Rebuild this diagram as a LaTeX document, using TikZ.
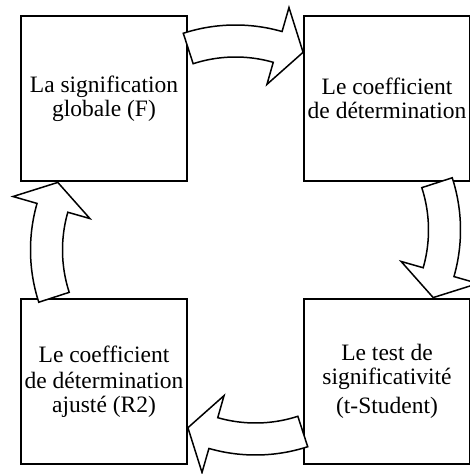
\documentclass[tikz,border=0pt]{standalone}
\usepackage{fontspec}
\setmainfont{Liberation Serif}
\usetikzlibrary{calc}
\tikzset{
  bloc/.style={draw,line width=1.6pt,minimum width=166.5pt,minimum height=165.5pt,inner sep=0pt,align=center,font=\fontsize{23.5}{24}\selectfont},
  fleche/.style={draw,line width=1.5pt,fill=white,line join=miter,miter limit=20},
  pics/virage/.style={code={
    \draw[fleche,shift={(-10,46)}] (108:169) arc[start angle=108,end angle=74,radius=169]
      -- (74:194) -- (64.5:157) -- (74:114) -- (74:137)
      arc[start angle=74,end angle=108,radius=137] -- cycle;
  }}
}
\begin{document}
\begin{tikzpicture}[x=1pt,y=1pt]
\useasboundingbox (-245,-234) rectangle (225,240);
\clip (-245,-234) rectangle (225,240);
\node[bloc] (glob) at (-141,141.5) {La signification\\globale (F)};
\node[bloc] (coef) at (142,141.5) {Le coefficient\\de détermination};
\node[bloc] (test) at (142,-141.5) {Le test de\\significativité\\[5pt](t-Student)};
\node[bloc] (ajust) at (-141,-141.5) {Le coefficient\\[2pt]de détermination\\ajusté (R2)};
\coordinate (centre) at ($(glob.center)!0.5!(test.center)$);
\pic at (centre) {virage};
\pic[rotate=-90] at (centre) {virage};
\pic[rotate=-180] at (centre) {virage};
\pic[rotate=-270] at (centre) {virage};
\end{tikzpicture}
\end{document}
